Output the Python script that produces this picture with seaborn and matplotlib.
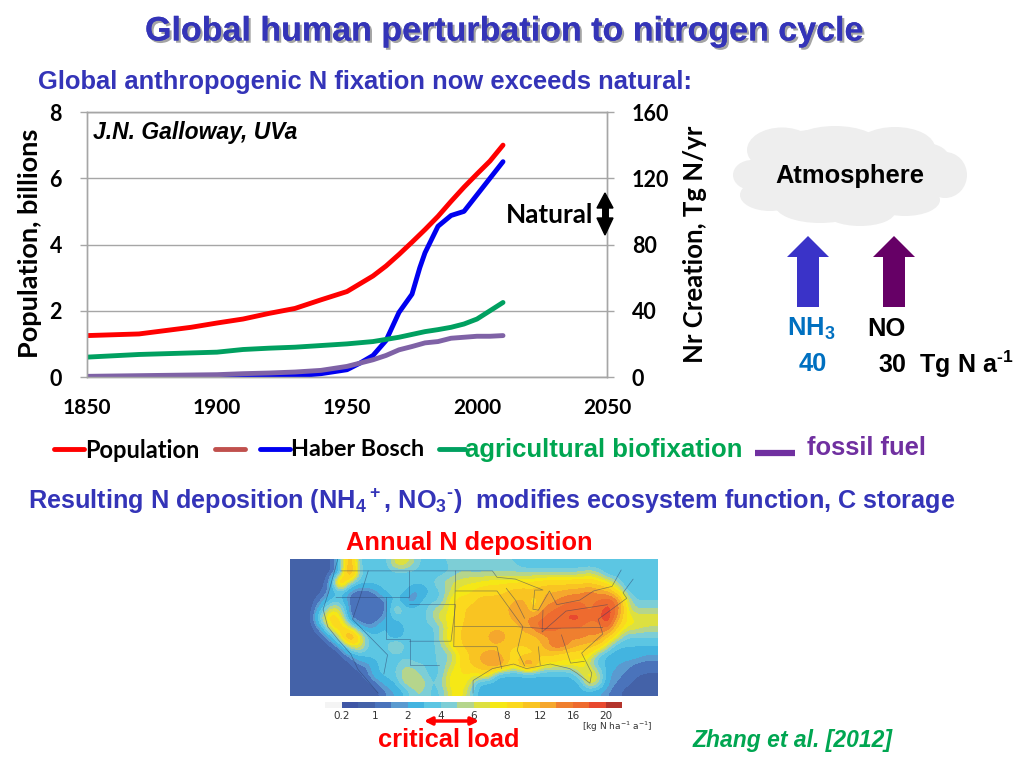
"""Global human perturbation to the nitrogen cycle: slide recreated with seaborn."""

from __future__ import annotations

import matplotlib

matplotlib.use("Agg")

import matplotlib.patheffects as pe
import matplotlib.pyplot as plt
import numpy as np
import pandas as pd
import seaborn as sns
from matplotlib.colors import BoundaryNorm, ListedColormap
from matplotlib.patches import Ellipse, Polygon

# line chart data
POP_YEARS = [1850, 1870, 1890, 1900, 1910, 1920, 1930, 1940, 1950, 1960, 1965,
             1970, 1975, 1980, 1985, 1990, 1995, 2000, 2005, 2010]
POPULATION = [1.25, 1.3, 1.5, 1.63, 1.75, 1.92, 2.07, 2.33, 2.58, 3.05, 3.35,
              3.7, 4.07, 4.45, 4.85, 5.3, 5.73, 6.13, 6.52, 7.0]

HB_YEARS = [1850, 1900, 1920, 1930, 1940, 1950, 1955, 1960, 1965, 1970, 1975,
            1978, 1980, 1985, 1990, 1995, 2000, 2005, 2010]
HABER_BOSCH = [0, 0, 0, 0.6, 2, 4.4, 8.4, 13, 22, 39, 50,
               66, 75, 91, 97.5, 100, 110, 120, 130]

AG_YEARS = [1850, 1870, 1900, 1910, 1920, 1930, 1940, 1950, 1960, 1970, 1980,
            1985, 1990, 1995, 2000, 2005, 2010]
AG_BIOFIX = [12, 13.6, 15, 16.6, 17.4, 18, 19, 20, 21.4, 24, 27.4,
             28.6, 30, 32, 35, 40, 45]

FF_YEARS = [1850, 1900, 1910, 1920, 1930, 1940, 1950, 1960, 1965, 1970, 1975,
            1980, 1985, 1990, 1995, 2000, 2005, 2010]
FOSSIL_FUEL = [0.4, 1.4, 2, 2.4, 3, 4, 6.4, 10.4, 13, 16.4, 18.4,
               20.6, 21.4, 23.4, 24, 24.6, 24.6, 25]

X_TICKS = [1850, 1900, 1950, 2000, 2050]
LEFT_TICKS = [0, 2, 4, 6, 8]
RIGHT_TICKS = [0, 40, 80, 120, 160]

DEPOSITION = [
    [.8, .8, .8, .8, .8, 3, 14, 3.5, 3.5, 3.5, 3.5, 7, 7, 5, 3.5, 3.5, 4, 4, 5, 4, 4, 4, 4, 4, 4, 3, 3, 3, 3, 3, 3, 3, 3, 3, 3, 3, 3, 3, 3, 3],
    [.8, .8, .8, .8, .8, 1.8, 16, 4, 3.5, 3.5, 3.5, 3.5, 3.5, 3.5, 3.5, 3.5, 3.5, 4, 5, 5, 5, 5, 5, 5, 5, 5, 5, 5, 5, 5, 5, 5, 6, 5, 3, 3, 3, 3, 3, 3],
    [.8, .8, .8, .8, 1.5, 14, 5, 3.5, 3.5, 3.5, 3.5, 3.5, 3.5, 3.5, 3.5, 4, 5, 6, 6.5, 7, 7, 7.5, 7.5, 7.5, 7.5, 8, 8, 8.5, 9, 9, 9, 9, 9, 8.5, 7, 5, 3, 3, 3, 3],
    [.8, .8, .8, .8, 2, 3.5, 1.5, 1, 1, 2, 3.5, 3.5, 3.5, 1.5, 2, 3.5, 4, 6, 7.5, 7.5, 8.5, 9, 9, 10, 11, 11, 11, 12, 12, 12, 13, 13, 15, 13, 12, 8, 4, 3, 3, 3],
    [.8, .8, .8, 1.5, 3, 3.5, 1, 1, 1, 1, 1.5, 3.5, 1.5, 1.2, 3.5, 3.5, 4, 8, 8.5, 8.5, 11, 11, 11, 11, 12, 12, 8, 12, 13, 15, 16, 16, 16, 16, 18, 16, 7, 4, 4, 4],
    [.8, .8, .8, 3, 7, 6, 1, 1, 1, 1, 1.2, 6, 3.5, 3.5, 3.5, 5, 6, 7.5, 9, 11, 11, 11, 11, 12, 13, 15, 8, 15, 16, 17, 17, 17, 15, 17, 19, 17, 7.5, 5, 5, 5],
    [.8, .8, .8, 6, 10, 8, 1, 1, 1, 1.2, 2, 3.5, 3.5, 3.5, 3.5, 5, 7, 7.5, 9, 11, 11, 11, 11, 11, 13, 13, 16, 16, 17, 18, 19, 19, 17, 17, 21, 14, 8, 7, 7, 7],
    [.8, .8, .8, 2, 8, 10, 6, 2, 1.5, 2, 3.5, 1.2, 3.5, 3.5, 4, 3.5, 5, 8, 10, 11, 11, 11, 11, 11, 11, 13, 15, 18, 18, 16, 16, 16, 14, 14, 18, 10, 7, 7, 6, 6],
    [.8, .8, .8, .8, 2, 7, 16, 8, 3.5, 3.5, 3.5, 1.5, 3.5, 3.5, 3.5, 3.5, 6, 8, 10, 11, 11, 12, 15, 12, 11, 11, 11, 13, 14, 14, 14, 15, 14, 15, 10, 7, 4, 4, 4, 4],
    [.8, .8, .8, .8, .8, 1.5, 6, 8, 3.5, 3.5, 3.5, 7, 3.5, 3.5, 3.5, 3.5, 5, 7.5, 10, 11, 11, 11, 11, 11, 10, 10, 11, 12, 16, 17, 14, 12, 11, 10, 6, 3, 3, 3, 3, 3],
    [.8, .8, .8, .8, .8, .8, 1.5, 3, 3.5, 3.5, 3.5, 3.5, 3.5, 3.5, 3.5, 4, 4, 5, 8, 10, 12, 13, 13, 10, 9, 9, 9, 10, 10, 8, 8, 8, 8, 4, 2.5, 2.5, 2.5, 2.5, 2, 2],
    [.8, .8, .8, .8, .8, .8, .8, 1.5, 1.5, 3, 3.5, 3.5, 5, 4, 4, 4, 4, 6, 8, 10, 12, 13, 17, 12, 8, 16, 15, 8, 8, 8, 8, 8, 6, 3, 3, 2, 1.8, 1.4, 1.2, 1.2],
    [.8, .8, .8, .8, .8, .8, .8, .8, 1.5, 3, 3.5, 4, 6, 6, 4, 3.5, 4, 7.5, 8, 8, 8, 10, 3, 3, 3, 3, 3, 3, 3, 3, 3, 6, 8, 6, 2, 1.8, 1.4, 1.1, 1, 1],
    [.8, .8, .8, .8, .8, .8, .8, .8, .8, 1.5, 2.5, 3, 6, 6, 6, 3.5, 5, 8, 8, 7, 3, 2.5, 2.5, 2.5, 2.5, 2.5, 2.5, 2.5, 2.5, 2.5, 2.5, 2.5, 8, 6, 2, 1.5, 1.2, .9, .8, .8],
    [.8, .8, .8, .8, .8, .8, .8, .8, .8, .8, 1.5, 2, 3, 5, 5, 3.5, 4, 7, 8, 5, 2.5, 2.5, 2.5, 2.5, 2.5, 2.5, 2.5, 2.5, 2.5, 2.5, 2.5, 2.5, 2.5, 2, 1.5, 1.2, .8, .8, .8, .8],
]
LEVELS = [0, .2, .6, 1, 1.5, 2, 3, 4, 5, 6, 7, 8, 10, 12, 14, 16, 18, 20, 22]
LEVEL_COLORS = ["#f4f4f4", "#3f56a5", "#4462a8", "#4a73bb", "#5a9ad0", "#43b4e0",
                "#5cc6e3", "#7dced6", "#b5d58c", "#dde040", "#f5e816", "#fbd91e",
                "#f9c422", "#f5a72d", "#ef7f2f", "#ee6b2f", "#e8492f", "#b4342c"]
CBAR_LABELS = ["0.2", "1", "2", "4", "6", "8", "12", "16", "20"]

# rough outlines on the deposition grid (column, row)
COAST_WEST = [(5.2, 0), (4.3, 3.3), (3.6, 5.5), (4.1, 7.4), (5.2, 8.8), (6.6, 10.4), (7.4, 12.1), (9.6, 14.7)]
COAST_EAST = [(19.9, 14.7), (19.9, 13.3), (22, 12), (24.3, 11.5), (25.7, 12), (28.3, 11.5), (30.4, 12),
              (31.2, 12.5), (32.6, 13.6), (32.8, 12.5), (31.7, 10.3), (34, 8.2), (33.5, 6.6), (36.6, 4.3),
              (36.2, 3.7), (37.3, 2.2)]
NORTH_BORDER = [(5.5, 1.3), (22, 1.3), (22.5, 2), (24.5, 2.2), (27.5, 3.4), (26.6, 3.4), (26.4, 5.5),
                (27, 5.6), (28.2, 3.5), (29, 5), (31.5, 4.5), (33, 3.5), (35, 3), (36, 1.2)]
STATE_LINES = [
    [(8.5, 1.3), (7.6, 4.2), (13, 4.2), (13, 1.3)],
    [(5, 4.2), (7.6, 4.2), (6.8, 6.6), (10.6, 10.5), (10.2, 12.6)],
    [(10.4, 4.2), (10.4, 8.8), (13, 8.8), (13, 11.6), (16.2, 11.6)],
    [(13, 5), (18, 5), (17.5, 9), (13, 9)],
    [(18, 1.3), (17.8, 9.6), (22.5, 9.6), (23, 12)],
    [(18, 3.5), (22.5, 3.5), (25.3, 7.4), (24.7, 10), (25.5, 11.7)],
    [(17.9, 7.4), (24.5, 7.4), (27.5, 7.6), (34, 7.5)],
    [(27.5, 5.6), (27.4, 8), (30, 5.7), (34.5, 5)],
    [(27, 9.6), (27.2, 11.6)],
    [(29.5, 8.3), (30.5, 11.4), (32, 11.2)],
    [(23.5, 3.2), (24.5, 4.5), (25.5, 6.5)],
]

TITLE_BLUE = "#3434b8"
RED = "#ff0000"
BLUE = "#0000f0"
GREEN = "#00a060"
PURPLE = "#7f62a6"
GREEN_TEXT = "#00a651"
BODY_FONT = "Liberation Sans"
CHART_FONT = "Lato"
MATH_FONT = "Liberation Sans:bold"


def px_axes(fig, left, top, right, bottom):
    """Axes placed by its pixel box on the 1024x768 figure."""
    return fig.add_axes([left / 1024, 1 - bottom / 768, (right - left) / 1024, (bottom - top) / 768])


def draw_chart(fig):
    ax = px_axes(fig, 87, 112, 607, 377)
    twin = ax.twinx()

    sns.lineplot(data=pd.DataFrame({"year": POP_YEARS, "v": POPULATION}), x="year", y="v",
                 ax=ax, color=RED, lw=3.5, errorbar=None)
    for years, values, color in [(HB_YEARS, HABER_BOSCH, BLUE),
                                 (AG_YEARS, AG_BIOFIX, GREEN),
                                 (FF_YEARS, FOSSIL_FUEL, PURPLE)]:
        sns.lineplot(data=pd.DataFrame({"year": years, "v": values}), x="year", y="v",
                     ax=twin, color=color, lw=3.5, errorbar=None)

    ax.set_xlim(1850, 2050)
    ax.set_ylim(0, 8)
    twin.set_ylim(0, 160)
    ax.set_xticks(X_TICKS)
    ax.set_yticks(LEFT_TICKS)
    twin.set_yticks(RIGHT_TICKS)
    ax.set_xlabel("")
    ax.set_ylabel("")
    twin.set_xlabel("")
    twin.set_ylabel("")
    ax.grid(axis="y", color="#a6a6a6", lw=1)
    ax.grid(axis="x", visible=False)
    twin.grid(False)

    for a in (ax, twin):
        for spine in a.spines.values():
            spine.set_visible(True)
            spine.set_color("#a6a6a6")
            spine.set_linewidth(1)
        a.tick_params(length=5, width=1, color="#a6a6a6", labelcolor="black", labelsize=15.5, pad=8)
        for label in a.get_xticklabels() + a.get_yticklabels():
            label.set_fontfamily(CHART_FONT)
            label.set_fontweight("bold")
    ax.tick_params(axis="x", labelsize=15, pad=10)
    ax.tick_params(axis="y", pad=13)
    twin.tick_params(axis="y", pad=13)


def draw_map(fig):
    ax = px_axes(fig, 290, 559, 658, 696)
    grid = np.array(DEPOSITION, dtype=float)
    cmap = ListedColormap(LEVEL_COLORS)
    norm = BoundaryNorm(LEVELS, cmap.N)
    ax.imshow(grid, cmap=cmap, norm=norm, interpolation="bicubic", aspect="auto",
              extent=(0, grid.shape[1], grid.shape[0], 0))
    for line in [COAST_WEST, COAST_EAST, NORTH_BORDER] + STATE_LINES:
        xs, ys = zip(*line)
        ax.plot(xs, ys, color="#2c3a66", lw=0.5, alpha=0.55)
    ax.set_xlim(0, grid.shape[1])
    ax.set_ylim(grid.shape[0], 0)
    ax.axis("off")

    bar = px_axes(fig, 325, 702, 622, 708)
    strip = pd.DataFrame([list(range(len(LEVEL_COLORS)))])
    sns.heatmap(strip, ax=bar, cmap=cmap, cbar=False, xticklabels=False, yticklabels=False)
    bar.set_xlabel("")
    bar.set_ylabel("")


def draw_slide(fig):
    ov = fig.add_axes([0, 0, 1, 1], zorder=10)
    ov.set_xlim(0, 1024)
    ov.set_ylim(768, 0)
    ov.axis("off")
    ov.patch.set_alpha(0)

    def put(x, y, s, size, color="black", family=BODY_FONT, weight="bold", ha="left", **kw):
        return ov.text(x, y, s, fontsize=size, color=color, family=family, fontweight=weight,
                       ha=ha, va="center", **kw)

    title = put(504, 32, "Global human perturbation to nitrogen cycle", 24.5, TITLE_BLUE, ha="center")
    title.set_path_effects([pe.withSimplePatchShadow(offset=(1.6, -1.6), shadow_rgbFace="#9a9a9a", alpha=0.9),
                            pe.Normal()])
    put(38, 82, "Global anthropogenic N fixation now exceeds natural:", 18.4, TITLE_BLUE)
    put(28, 501, r"Resulting N deposition (NH$_4$$^+$, NO$_3$$^{\text{-}}$)  modifies ecosystem function, C storage",
        18.15, TITLE_BLUE)
    put(469, 543, "Annual N deposition", 18.3, RED, ha="center")
    put(449, 740, "critical load", 18.4, RED, ha="center")
    put(793, 741, "Zhang et al. [2012]", 16.5, GREEN_TEXT, ha="center", style="italic")
    put(93, 133, "J.N. Galloway, UVa", 16.5, style="italic")

    # axis titles
    put(30, 243, "Population, billions", 19.5, family=CHART_FONT, ha="center", rotation=90)
    put(695, 244, "Nr Creation, Tg N/yr", 18.5, family=CHART_FONT, ha="center", rotation=90)

    # natural range marker
    put(506, 215, "Natural", 18.8, family=CHART_FONT)
    ov.add_patch(Polygon([(605, 193), (613, 208), (597, 208)], color="black"))
    ov.add_patch(Polygon([(605, 235), (613, 218), (597, 218)], color="black"))
    ov.plot([605, 605], [205, 222], color="black", lw=5, solid_capstyle="butt")

    # legend
    put(85, 450, "Population", 17, family=CHART_FONT)
    put(291, 450, "Haber Bosch", 16.8, family=CHART_FONT)
    put(465, 450, "agricultural biofixation", 18.5, GREEN_TEXT)
    put(807, 448, "fossil fuel", 18.4, "#7030a0")
    for x0, x1, y, color, width in [(54, 84, 449, RED, 3.5), (215, 245, 449, "#c0504d", 3.5),
                                    (260, 290, 449, BLUE, 3.5), (439, 465, 449, GREEN, 3.5)]:
        ov.plot([x0, x1], [y, y], color=color, lw=width, solid_capstyle="round")
    ov.plot([755, 795], [453, 453], color="#7030a0", lw=4.5, solid_capstyle="butt")

    # atmosphere cloud
    for x, y, w, h in [(850, 177, 190, 80), (782, 150, 70, 45), (835, 145, 90, 38),
                       (895, 148, 80, 42), (945, 175, 44, 46), (752, 175, 38, 30),
                       (770, 195, 60, 32), (820, 205, 90, 36), (860, 212, 70, 28),
                       (905, 200, 70, 32), (810, 150, 60, 40), (925, 160, 50, 34)]:
        ov.add_patch(Ellipse((x, y), w, h, color="#eeeeee", lw=0))
    put(850, 176, "Atmosphere", 18.4, ha="center")

    # emission arrows
    for cx, color in [(808, "#3a33c8"), (894, "#660066")]:
        ov.add_patch(Polygon([(cx, 236), (cx + 21, 257), (cx + 11, 257), (cx + 11, 307),
                              (cx - 11, 307), (cx - 11, 257), (cx - 21, 257)], color=color, lw=0))
    put(787, 329, r"NH$_3$", 18.4, "#0070c0")
    put(867, 329, "NO", 18.4)
    put(799, 364, "40", 18.4, "#0070c0")
    put(878, 364, r"30  Tg N a$^{\text{-1}}$", 18)

    # colour bar labels and critical load range
    for i, label in enumerate(CBAR_LABELS):
        ov.text(342 + 33 * i, 716, label, fontsize=7.5, family="DejaVu Sans", color="#333333",
                ha="center", va="center")
    ov.text(617, 727, r"[kg N ha$^{-1}$ a$^{-1}$]", fontsize=6.5, family="DejaVu Sans", color="#333333",
            ha="center", va="center", math_fontfamily="dejavusans")
    ov.annotate("", xy=(424, 721), xytext=(479, 721),
                arrowprops=dict(arrowstyle="<|-|>", color=RED, lw=2.5, mutation_scale=11, shrinkA=0, shrinkB=0))


def main() -> None:
    sns.set_theme(style="white")
    plt.rcParams["mathtext.fontset"] = "custom"
    plt.rcParams["mathtext.rm"] = MATH_FONT
    plt.rcParams["mathtext.bf"] = MATH_FONT
    plt.rcParams["mathtext.default"] = "rm"

    fig = plt.figure(figsize=(10.24, 7.68), dpi=100, facecolor="white")
    draw_chart(fig)
    draw_map(fig)
    draw_slide(fig)
    fig.savefig("out.png", dpi=100)


if __name__ == "__main__":
    main()
